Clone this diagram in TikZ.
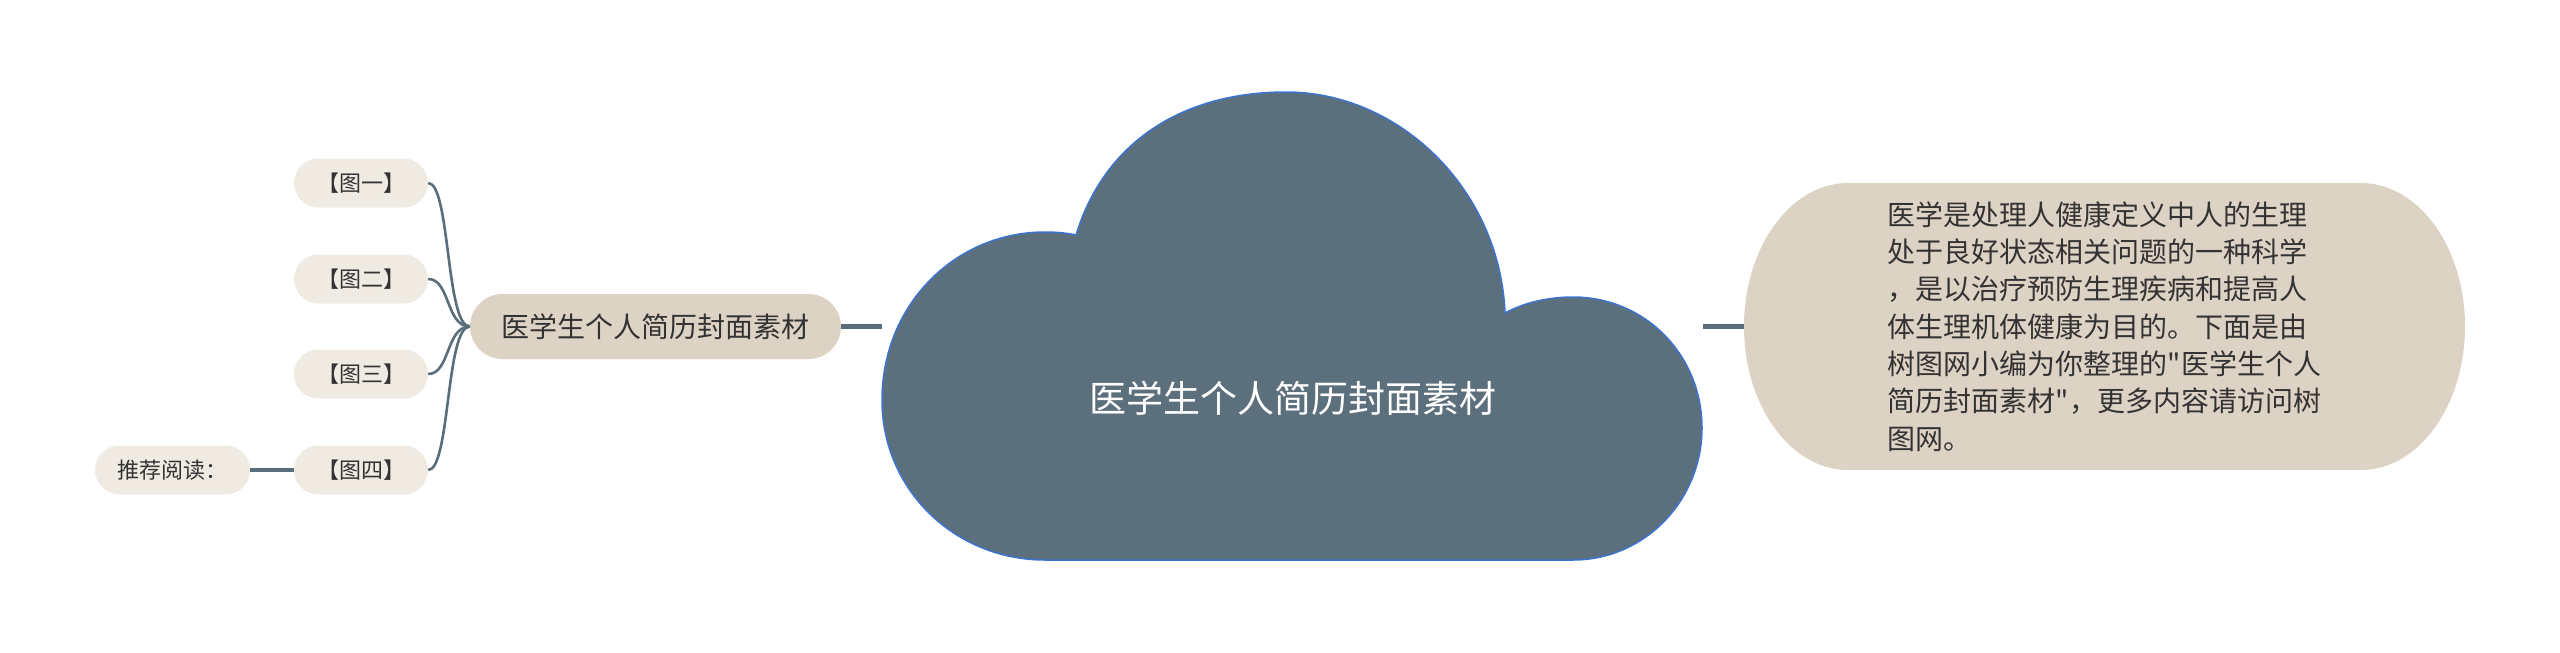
\documentclass[tikz,border=0pt]{standalone}
\usepackage{fontspec}
\usetikzlibrary{calc}
\setmainfont{Noto Sans CJK SC}[Ligatures=TeXOff]
\definecolor{linkc}{HTML}{5A6D7A}
\definecolor{cloudfill}{HTML}{5C6F7C}
\definecolor{cloudline}{HTML}{3D74CF}
\definecolor{leaffill}{HTML}{EFEBE3}
\definecolor{mainfill}{HTML}{DDD3C4}
\definecolor{txt}{HTML}{333333}
\begin{document}
\begin{tikzpicture}[x=1pt,y=-1pt,
  link/.style={draw=linkc, line width=2.6pt},
  bar/.style={draw=linkc, line width=4.5pt},
  leaf/.style={fill=leaffill, rounded corners=24.5pt, minimum width=134pt, minimum height=49pt, inner sep=0pt, text=txt, font=\fontsize{22}{26}\selectfont},
  mainbox/.style={fill=mainfill, rounded corners=32.5pt, minimum width=371pt, minimum height=65pt, inner sep=0pt, text=txt, font=\fontsize{28}{34}\selectfont},
  cloudtext/.style={text=white, inner sep=0pt, font=\fontsize{37}{42}\selectfont},
  desc/.style={minimum width=721pt, minimum height=287pt, inner sep=0pt, text=txt, align=left, font=\fontsize{28}{37.3}\selectfont}]
\useasboundingbox (0,0) rectangle (2560,653);

% side nodes
\node[mainbox] (main) at (655.5,326.5) {医学生个人简历封面素材};
\node[leaf] (f1) at (361,183) {【图一】};
\node[leaf] (f2) at (361,279) {【图二】};
\node[leaf] (f3) at (361,374) {【图三】};
\node[leaf] (f4) at (361,470) {【图四】};
\node[leaf, minimum width=155pt] (rd) at (172.5,470) {推荐阅读：};

% connectors on the left
\foreach \n in {f1,f2,f3,f4}{
  \draw[link] (\n.east) .. controls ($(\n.east)+(22,0)$) and ($(main.west)+(-24,0)$) .. (main.west);
}
\draw[bar] (rd.east) -- (f4.west);

% cloud connectors
\coordinate (cL) at (882,326.5);
\coordinate (cR) at (1703,326.5);
\draw[bar] (main.east) -- (cL);

% right description node
\fill[mainfill] (1848,183) -- (2361,183)
  arc[start angle=-90, end angle=90, x radius=104, y radius=143.5]
  -- (1848,470)
  arc[start angle=90, end angle=270, x radius=104, y radius=143.5] -- cycle;
\node[desc] (rt) at (2104.5,326.5) {医学是处理人健康定义中人的生理\\处于良好状态相关问题的一种科学\\，是以治疗预防生理疾病和提高人\\体生理机体健康为目的。下面是由\\树图网小编为你整理的"医学生个人\\简历封面素材"，更多内容请访问树\\图网。};
\draw[bar] (cR) -- (rt.west);

% cloud
\filldraw[fill=cloudfill, draw=cloudline, line width=1.5pt]
  (1045,560) .. controls (955,560) and (882,490) .. (882,400)
  .. controls (882,305) and (955,232) .. (1045,232)
  .. controls (1057,232) and (1067,233) .. (1076,235)
  .. controls (1105,140) and (1185,92) .. (1286,92)
  .. controls (1400,92) and (1500,190) .. (1505,313)
  .. controls (1525,302) and (1550,297) .. (1573,297)
  .. controls (1645,297) and (1702,355) .. (1702,428)
  .. controls (1702,500) and (1645,560) .. (1573,560)
  -- cycle;
\node[cloudtext] (cloud) at (1293,398) {医学生个人简历封面素材};
\end{tikzpicture}
\end{document}
